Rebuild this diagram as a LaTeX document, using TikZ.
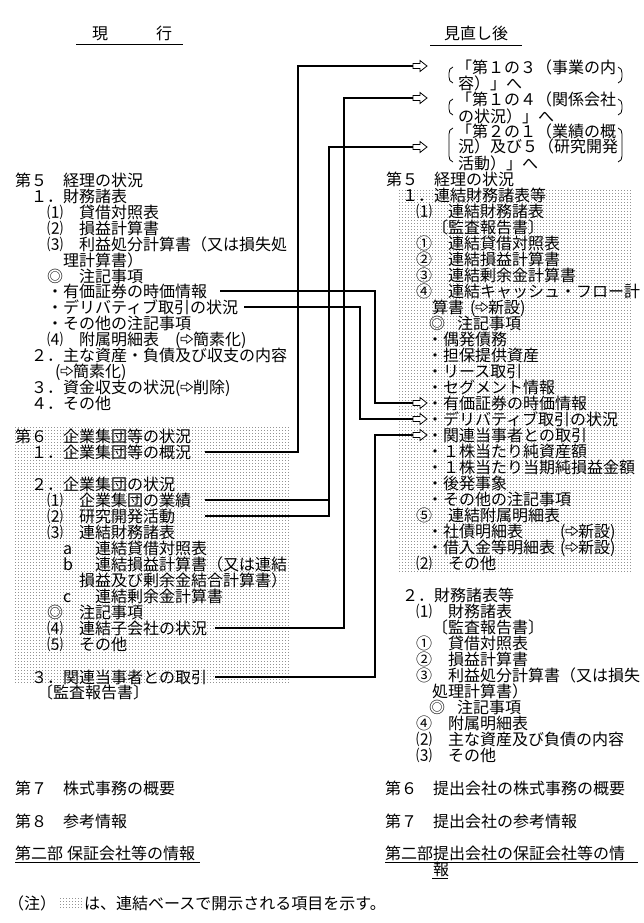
\documentclass[tikz,border=0pt]{standalone}
\usepackage{fontspec}
\setmainfont{Noto Sans CJK JP}
\usetikzlibrary{patterns}
\pgfdeclarepatternformonly{sqdots}{\pgfqpoint{0pt}{0pt}}{\pgfqpoint{3pt}{3pt}}{\pgfqpoint{3pt}{3pt}}{\pgfpathrectangle{\pgfqpoint{0pt}{0pt}}{\pgfqpoint{0.85pt}{0.85pt}}\pgfusepath{fill}}
\newcommand\RA{\tikz[x=1pt,y=1pt,baseline=0pt,line width=0.7pt,line join=miter]\draw (0.8,4.2) -- (6.5,4.2) -- (6.5,1.5) -- (12.5,6) -- (6.5,10.5) -- (6.5,7.8) -- (0.8,7.8) -- cycle;}
\newcommand\jtx[4]{\node[txt] (#1) at (#2,#3) {#4};}
\newcommand\harr[1]{\filldraw[hol] (#1) ++(0,-2.5) -- ++(7,0) -- ++(0,-3) -- ++(7,5.5) -- ++(-7,5.5) -- ++(0,-3) -- ++(-7,0) -- cycle;}
\newcommand\lpar[2]{\draw[brk] (453,#1) .. controls (450,#1+1) and (449,#1+3) .. (449,#1+6) -- (449,#2-6) .. controls (449,#2-3) and (450,#2-1) .. (453,#2);}
\newcommand\rpar[2]{\draw[brk] (618,#1) .. controls (621,#1+1) and (622,#1+3) .. (622,#1+6) -- (622,#2-6) .. controls (622,#2-3) and (621,#2-1) .. (618,#2);}
\tikzset{
  txt/.style={anchor=west, inner sep=0pt, text height=13pt, text depth=1pt, font=\fontsize{16pt}{16pt}\selectfont},
  hol/.style={line width=0.8pt, fill=white, draw=black, line join=miter},
  conn/.style={line width=2.2pt},
  shade/.style={pattern=sqdots, pattern color=black},
  brk/.style={line width=0.8pt},
  uline/.style={line width=1pt}
}
\begin{document}
\begin{tikzpicture}[x=1pt,y=-1pt]
\useasboundingbox (0,0) rectangle (643,923);
\fill[white] (0,0) rectangle (643,923);
% shaded regions (consolidated items)
\fill[shade] (13,427) rectangle (290,684);
\fill[shade] (398,188) rectangle (632,571);
% headings
\jtx{h1}{92}{34}{現　　　行}
\draw[uline] (76,45) -- (183,45);
\node[txt, anchor=center] (h2) at (476,34) {見直し後};
\draw[uline] (430,46) -- (522,46);
% left column
\jtx{L1}{15}{180}{第５　経理の状況}
\jtx{L2}{31}{196}{１．財務諸表}
\jtx{L3}{47}{212}{⑴　貸借対照表}
\jtx{L4}{47}{228}{⑵　損益計算書}
\jtx{L5}{47}{244}{⑶　利益処分計算書（又は損失処}
\jtx{L6}{63}{260}{理計算書）}
\jtx{L7}{47}{276}{◎　注記事項}
\jtx{L8}{47}{291}{・有価証券の時価情報}
\jtx{L9}{47}{307}{・デリバティブ取引の状況}
\jtx{L10}{47}{323}{・その他の注記事項}
\jtx{L11}{47}{339}{\makebox[128pt][l]{⑷　附属明細表}(\RA 簡素化)}
\jtx{L12}{31}{355}{２．主な資産・負債及び収支の内容}
\jtx{L13}{55}{371}{(\RA 簡素化)}
\jtx{L14}{31}{387}{\makebox[144pt][l]{３．資金収支の状況}(\RA 削除)}
\jtx{L15}{31}{403}{４．その他}
\jtx{L16}{15}{436}{第６　企業集団等の状況}
\jtx{L17}{31}{452}{１．企業集団等の概況}
\jtx{L18}{31}{484}{２．企業集団の状況}
\jtx{L19}{47}{500}{⑴　企業集団の業績}
\jtx{L20}{47}{516}{⑵　研究開発活動}
\jtx{L21}{47}{532}{⑶　連結財務諸表}
\jtx{L22}{63}{548}{\makebox[32pt][l]{a}連結貸借対照表}
\jtx{L23}{63}{564}{\makebox[32pt][l]{b}連結損益計算書（又は連結}
\jtx{L24}{79}{580}{損益及び剰余金結合計算書）}
\jtx{L25}{63}{596}{\makebox[32pt][l]{c}連結剰余金計算書}
\jtx{L26}{47}{612}{◎　注記事項}
\jtx{L27}{47}{628}{⑷　連結子会社の状況}
\jtx{L28}{47}{644}{⑸　その他}
\jtx{L29}{31}{677}{３．関連当事者との取引}
\jtx{L30}{37}{692}{〔監査報告書〕}
\jtx{L31}{15}{788}{第７　株式事務の概要}
\jtx{L32}{15}{821}{第８　参考情報}
\jtx{L33}{15}{853}{第二部\hspace{4pt}保証会社等の情報}
\draw[uline] (15,862) -- (200,862);
% right column: moved items
\jtx{B1a}{456}{68}{「第１の３（事業の内}
\jtx{B1b}{458}{84}{容）」へ}
\jtx{B2a}{456}{100}{「第１の４（関係会社}
\jtx{B2b}{458}{116}{の状況）」へ}
\jtx{B3a}{456}{131}{「第２の１（業績の概}
\jtx{B3b}{458}{147}{況）及び５（研究開発}
\jtx{B3c}{458}{163}{活動）」へ}
\lpar{67}{83}\rpar{67}{83}
\lpar{99}{115}\rpar{99}{115}
\lpar{128}{162}\rpar{128}{162}
% right column
\jtx{R1}{386}{179}{第５　経理の状況}
\jtx{R2}{402}{195}{１．連結財務諸表等}
\jtx{R3}{416}{211}{⑴　連結財務諸表}
\jtx{R4}{432}{227}{〔監査報告書〕}
\jtx{R5}{416}{243}{①　連結貸借対照表}
\jtx{R6}{416}{259}{②　連結損益計算書}
\jtx{R7}{416}{275}{③　連結剰余金計算書}
\jtx{R8}{416}{291}{④　連結キャッシュ・フロー計}
\jtx{R9}{432}{307}{算書\hspace{6pt}(\RA 新設)}
\jtx{R10}{429}{323}{◎\hspace{12pt}注記事項}
\jtx{R11}{427}{339}{・偶発債務}
\jtx{R12}{427}{355}{・担保提供資産}
\jtx{R13}{427}{371}{・リース取引}
\jtx{R14}{427}{387}{・セグメント情報}
\jtx{R15}{427}{403}{・有価証券の時価情報}
\jtx{R16}{427}{419}{・デリバティブ取引の状況}
\jtx{R17}{427}{435}{・関連当事者との取引}
\jtx{R18}{427}{451}{・１株当たり純資産額}
\jtx{R19}{427}{467}{・１株当たり当期純損益金額}
\jtx{R20}{427}{483}{・後発事象}
\jtx{R21}{427}{499}{・その他の注記事項}
\jtx{R22}{416}{515}{⑤　連結附属明細表}
\jtx{R23}{427}{531}{\makebox[133pt][l]{・社債明細表}(\RA 新設)}
\jtx{R24}{427}{547}{\makebox[133pt][l]{・借入金等明細表}(\RA 新設)}
\jtx{R25}{416}{563}{⑵　その他}
\jtx{R26}{402}{595}{２．財務諸表等}
\jtx{R27}{416}{611}{⑴　財務諸表}
\jtx{R28}{432}{627}{〔監査報告書〕}
\jtx{R29}{416}{643}{①　貸借対照表}
\jtx{R30}{416}{659}{②　損益計算書}
\jtx{R31}{416}{675}{③　利益処分計算書（又は損失}
\jtx{R32}{432}{691}{処理計算書）}
\jtx{R33}{429}{707}{◎\hspace{12pt}注記事項}
\jtx{R34}{416}{723}{④　附属明細表}
\jtx{R35}{416}{739}{⑵　主な資産及び負債の内容}
\jtx{R36}{416}{755}{⑶　その他}
\jtx{R37}{385}{788}{第６　提出会社の株式事務の概要}
\jtx{R38}{385}{821}{第７　提出会社の参考情報}
\jtx{R39}{385}{853}{第二部提出会社の保証会社等の情}
\draw[uline] (385,862) -- (638,862);
\jtx{R40}{433}{869}{報}
\draw[uline] (432,878) -- (448,878);
% note
\jtx{N1}{8}{903}{（注）}
\fill[shade] (59,897) rectangle (83,909);
\jtx{N2}{84}{903}{は、連結ベースで開示される項目を示す。}
% arrow end points
\coordinate (A1) at (413,66);
\coordinate (A2) at (413,98);
\coordinate (A3) at (413,147);
\coordinate (A4) at (413,403);
\coordinate (A5) at (413,419);
\coordinate (A6) at (413,435);
% vertical line positions
\coordinate (v1) at (298,0);
\coordinate (v2) at (329,0);
\coordinate (v3) at (344,0);
\coordinate (v4) at (360,0);
\coordinate (v5) at (375,0);
% connectors
\draw[conn] ([xshift=14pt]L17.east) -| (v1 |- A1) -- (A1);
\draw[conn] ([xshift=14pt]L19.east) -| (v2 |- A3) -- (A3);
\draw[conn] ([xshift=30pt]L20.east) -| (v2 |- L19.east);
\draw[conn] ([xshift=8pt]L27.east) -| (v3 |- A2) -- (A2);
\draw[conn] ([xshift=8pt]L29.east) -| (v5 |- A6) -- (A6);
\draw[conn] ([xshift=13pt]L8.east) -| (v5 |- A4) -- (A4);
\draw[conn] ([xshift=6pt]L9.east) -| (v4 |- A5) -- (A5);
% hollow arrow heads
\harr{A1}\harr{A2}\harr{A3}\harr{A4}\harr{A5}\harr{A6}
\end{tikzpicture}
\end{document}
